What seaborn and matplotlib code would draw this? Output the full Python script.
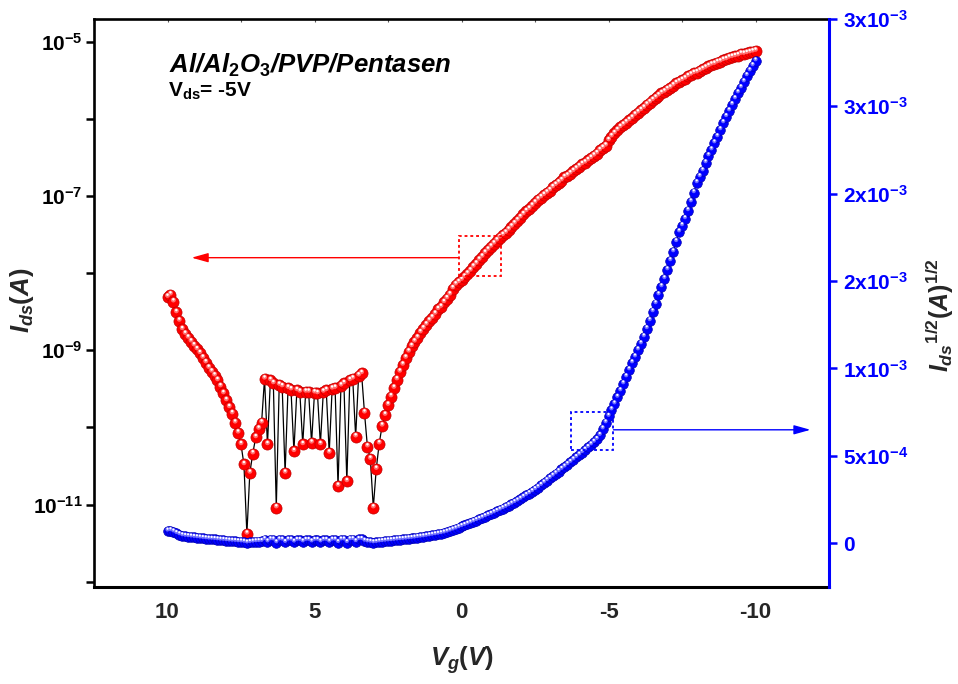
import numpy as np
import pandas as pd
import matplotlib
matplotlib.use("Agg")
import matplotlib.pyplot as plt
import matplotlib.ticker as mticker
from matplotlib.patches import Rectangle
from matplotlib.transforms import ScaledTranslation
import seaborn as sns

# ---------------------------------------------------------------------------
# Transfer curve of an Al/Al2O3/PVP/pentacene OTFT, Vds = -5 V.
# Gate sweep from +10 V to -10 V in 0.1 V steps.
# ---------------------------------------------------------------------------
VG_START, VG_STOP = 10.0, -10.0

# log10 of the drain current Ids (A)
log10_ids = [
    -8.31, -8.28, -8.37, -8.51, -8.62, -8.73, -8.79, -8.84, -8.89, -8.94,
    -8.99, -9.04, -9.10, -9.16, -9.23, -9.28, -9.33, -9.39, -9.47, -9.56,
    -9.65, -9.74, -9.82, -9.94, -10.07, -10.22, -10.48, -11.38, -10.59, -10.34,
    -10.13, -10.02, -9.94, -9.37, -10.22, -9.39, -9.43, -11.04, -9.45, -9.47,
    -10.59, -9.49, -9.51, -10.31, -9.52, -9.54, -10.22, -9.54, -9.54, -10.20,
    -9.55, -9.56, -10.22, -9.54, -9.52, -10.33, -9.50, -9.49, -10.76, -9.46,
    -9.43, -10.70, -9.39, -9.37, -10.12, -9.33, -9.30, -9.81, -10.25, -10.41,
    -11.04, -10.54, -10.21, -9.98, -9.84, -9.71, -9.60, -9.49, -9.38, -9.28,
    -9.19, -9.10, -9.02, -8.95, -8.89, -8.84, -8.77, -8.72, -8.67, -8.62,
    -8.58, -8.53, -8.47, -8.44, -8.38, -8.33, -8.28, -8.20, -8.15, -8.12,
    -8.09, -8.05, -8.01, -7.97, -7.92, -7.88, -7.83, -7.79, -7.74, -7.70,
    -7.66, -7.62, -7.58, -7.54, -7.51, -7.48, -7.44, -7.40, -7.36, -7.32,
    -7.28, -7.24, -7.20, -7.17, -7.13, -7.09, -7.05, -7.02, -6.99, -6.96,
    -6.93, -6.89, -6.86, -6.83, -6.80, -6.76, -6.74, -6.71, -6.68, -6.65,
    -6.62, -6.59, -6.57, -6.54, -6.51, -6.48, -6.45, -6.41, -6.38, -6.35,
    -6.28, -6.23, -6.19, -6.15, -6.11, -6.08, -6.05, -6.02, -5.99, -5.95,
    -5.92, -5.89, -5.86, -5.82, -5.79, -5.76, -5.73, -5.70, -5.67, -5.65,
    -5.62, -5.60, -5.57, -5.54, -5.52, -5.50, -5.48, -5.45, -5.43, -5.41,
    -5.40, -5.38, -5.36, -5.34, -5.32, -5.30, -5.29, -5.27, -5.26, -5.24,
    -5.23, -5.21, -5.20, -5.19, -5.18, -5.16, -5.16, -5.15, -5.14, -5.13,
    -5.12,
]

# sqrt(Ids) in units of 1e-4 A^1/2
sqrt_ids_e4 = [
    0.70, 0.72, 0.65, 0.56, 0.49, 0.43, 0.40, 0.38, 0.36, 0.34,
    0.32, 0.30, 0.28, 0.26, 0.24, 0.23, 0.22, 0.20, 0.18, 0.17,
    0.15, 0.13, 0.12, 0.11, 0.09, 0.08, 0.06, 0.02, 0.05, 0.07,
    0.09, 0.10, 0.11, 0.21, 0.08, 0.20, 0.19, 0.03, 0.19, 0.18,
    0.05, 0.18, 0.18, 0.07, 0.17, 0.17, 0.08, 0.17, 0.17, 0.08,
    0.17, 0.17, 0.08, 0.17, 0.17, 0.07, 0.18, 0.18, 0.04, 0.19,
    0.19, 0.04, 0.20, 0.21, 0.09, 0.22, 0.22, 0.12, 0.08, 0.06,
    0.03, 0.05, 0.08, 0.10, 0.12, 0.14, 0.15, 0.17, 0.19, 0.21,
    0.22, 0.24, 0.26, 0.28, 0.30, 0.33, 0.35, 0.37, 0.40, 0.43,
    0.46, 0.49, 0.52, 0.55, 0.59, 0.64, 0.70, 0.76, 0.82, 0.89,
    0.96, 1.02, 1.09, 1.16, 1.23, 1.30, 1.37, 1.44, 1.52, 1.59,
    1.66, 1.74, 1.82, 1.90, 1.98, 2.06, 2.15, 2.24, 2.33, 2.42,
    2.52, 2.63, 2.74, 2.84, 2.95, 3.07, 3.18, 3.31, 3.45, 3.58,
    3.71, 3.84, 3.97, 4.10, 4.23, 4.36, 4.50, 4.63, 4.77, 4.91,
    5.05, 5.19, 5.33, 5.48, 5.63, 5.78, 5.94, 6.17, 6.54, 6.89,
    7.26, 7.63, 7.97, 8.35, 8.72, 9.12, 9.52, 9.92, 10.32, 10.66,
    11.06, 11.41, 11.81, 12.27, 12.73, 13.24, 13.70, 14.21, 14.67, 15.13,
    15.64, 16.16, 16.67, 17.25, 17.81, 18.16, 18.56, 19.02, 19.53, 20.05,
    20.62, 20.96, 21.30, 21.76, 22.16, 22.50, 22.90, 23.25, 23.65, 24.05,
    24.40, 24.73, 25.08, 25.42, 25.76, 26.05, 26.39, 26.74, 27.02, 27.31,
    27.59,
]

# Axis ticks and their labels
x_ticks = [10, 5, 0, -5, -10]
x_tick_labels = ["10", "5", "0", "-5", "-10"]
left_ticks = [1e-12, 1e-11, 1e-10, 1e-9, 1e-8, 1e-7, 1e-6, 1e-5]
left_tick_labels = ["", r"$10^{-11}$", "", r"$10^{-9}$", "", r"$10^{-7}$", "", r"$10^{-5}$"]
right_ticks = [0.0, 5e-4, 1e-3, 1.5e-3, 2e-3, 2.5e-3, 3e-3]
right_tick_labels = ["0", r"5x10$^{-4}$", r"1x10$^{-3}$", r"2x10$^{-3}$",
                     r"2x10$^{-3}$", r"3x10$^{-3}$", r"3x10$^{-3}$"]

assert len(log10_ids) == len(sqrt_ids_e4)
vg = np.linspace(VG_START, VG_STOP, len(log10_ids))
df = pd.DataFrame({
    "Vg": vg,
    "Ids": 10.0 ** np.asarray(log10_ids),
    "sqrtIds": np.asarray(sqrt_ids_e4) * 1e-4,
})

# ---------------------------------------------------------------------------
sns.set_style("white")
plt.rcParams["font.family"] = ["Liberation Sans", "DejaVu Sans"]
plt.rcParams["font.weight"] = "bold"
plt.rcParams["mathtext.fontset"] = "custom"
plt.rcParams["mathtext.rm"] = "Liberation Sans:bold"
plt.rcParams["mathtext.bf"] = "Liberation Sans:bold"
plt.rcParams["mathtext.it"] = "Liberation Sans:italic:bold"

W, H = 958, 684
fig = plt.figure(figsize=(W / 100, H / 100), dpi=100)
fig.patch.set_facecolor("white")


def fx(px):
    return px / W


def fy(py):
    return 1 - py / H


ax = fig.add_axes([fx(94), fy(587), fx(829) - fx(94), fy(18.7) - fy(587)])
ax.set_yscale("log")
ax2 = ax.twinx()


def spheres(axis, y, face, edge, glow, shine, size):
    """Shaded ball markers: body, a lighter glow and a small specular spot."""
    sns.scatterplot(data=df, x="Vg", y=y, ax=axis, s=size, color=face,
                    edgecolor=edge, linewidth=0.5, zorder=3, legend=False)
    off1 = ScaledTranslation(0, 1.2 / 72, fig.dpi_scale_trans)
    sns.scatterplot(data=df, x="Vg", y=y, ax=axis, s=size * 0.2, color=glow,
                    edgecolor="none", linewidth=0, zorder=4, legend=False,
                    transform=axis.transData + off1)
    off2 = ScaledTranslation(0, 1.7 / 72, fig.dpi_scale_trans)
    sns.scatterplot(data=df, x="Vg", y=y, ax=axis, s=size * 0.05, color=shine,
                    edgecolor="none", linewidth=0, zorder=5, legend=False,
                    transform=axis.transData + off2)


# Ids on the logarithmic left axis
sns.lineplot(data=df, x="Vg", y="Ids", ax=ax, sort=False, estimator=None,
             color="black", linewidth=0.9, zorder=2)
spheres(ax, "Ids", "#ff0000", "#c00000", "#ff6e6e", "#ffffff", 64)

# sqrt(Ids) on the linear right axis
sns.lineplot(data=df, x="Vg", y="sqrtIds", ax=ax2, sort=False, estimator=None,
             color="black", linewidth=0.6, zorder=2)
spheres(ax2, "sqrtIds", "#0000ff", "#0000b0", "#6e6eff", "#ffffff", 48)

# Limits
ax.set_xlim(12.5, -12.5)
ax.set_ylim(10 ** -12.069, 10 ** -4.702)
ax2.set_ylim(-2.5e-4, 3.0e-3)

# Left axis ticks
ax.yaxis.set_major_locator(mticker.FixedLocator(left_ticks))
ax.yaxis.set_minor_locator(mticker.NullLocator())
ax.set_yticklabels(left_tick_labels, fontsize=15)
ax.tick_params(axis="y", which="major", direction="out", length=6, width=1.8,
               pad=2, colors="black")

# Bottom axis ticks
ax.set_xticks(x_ticks)
ax.set_xticklabels(x_tick_labels, fontsize=16, fontweight="bold")
ax.xaxis.set_minor_locator(mticker.MultipleLocator(2.5))
ax.tick_params(axis="x", which="major", direction="out", length=7, width=2.0,
               pad=4)
ax.tick_params(axis="x", which="minor", direction="in", length=2.5, width=0.8,
               colors="#555555")
ax.set_xlabel("")
ax.set_ylabel("")

# Top axis: small inward ticks
top = ax.secondary_xaxis("top")
top.xaxis.set_major_locator(mticker.MultipleLocator(2.5))
top.tick_params(axis="x", direction="in", length=2.5, width=0.8,
                labeltop=False, colors="#555555")
top.spines["top"].set_visible(False)

# Right axis ticks
ax2.set_yticks(right_ticks)
ax2.set_yticklabels(right_tick_labels, fontsize=15, color="blue")
ax2.tick_params(axis="y", direction="out", length=6, width=1.8, pad=4,
                colors="blue")
ax2.set_ylabel("")

# Spines
for name, sp in ax.spines.items():
    sp.set_color("black")
    sp.set_linewidth(1.9)
ax.spines["bottom"].set_linewidth(2.2)
ax.spines["right"].set_visible(False)
for name in ("left", "top", "bottom"):
    ax2.spines[name].set_visible(False)
ax2.spines["right"].set_color("blue")
ax2.spines["right"].set_linewidth(2.2)

# Highlight boxes with arrows pointing to the matching axis
ax.add_patch(Rectangle((0.10, 10 ** -8.033), -1.43, 10 ** -7.515 - 10 ** -8.033,
                       fill=False, edgecolor="red", linewidth=1.3,
                       linestyle=(0, (1.6, 1.6)), zorder=6))
ax.annotate("", xy=(9.18, 10 ** -7.80), xytext=(0.10, 10 ** -7.80),
            arrowprops=dict(arrowstyle="-|>,head_length=1.0,head_width=0.28",
                            color="red", lw=1.0, mutation_scale=10,
                            shrinkA=0, shrinkB=0), zorder=6)
ax2.add_patch(Rectangle((-3.71, 5.34e-4), -1.46, 7.52e-4 - 5.34e-4,
                        fill=False, edgecolor="blue", linewidth=1.3,
                        linestyle=(0, (1.6, 1.6)), zorder=6))
ax2.annotate("", xy=(-11.87, 6.49e-4), xytext=(-5.17, 6.49e-4),
             arrowprops=dict(arrowstyle="-|>,head_length=1.0,head_width=0.28",
                             color="blue", lw=1.0, mutation_scale=10,
                             shrinkA=0, shrinkB=0), zorder=6)

# Texts
fig.text(fx(169), fy(72.5), r"Al/Al$_\mathit{2}$O$_\mathit{3}$/PVP/Pentasen",
         fontsize=18.5, fontstyle="italic", fontweight="bold", color="black",
         ha="left", va="baseline")
fig.text(fx(168), fy(97), r"$\mathrm{V_{ds}}$= -5V", fontsize=15,
         fontweight="bold", color="black", ha="left", va="baseline")
fig.text(fx(22), fy(300), r"$\mathit{I_{ds}(A)}$", fontsize=18.5,
         rotation=90, ha="center", va="center")
fig.text(fx(940), fy(315), r"$\mathit{I_{ds}{}^{1/2}(A)^{1/2}}$", fontsize=18,
         rotation=90, ha="center", va="center")
fig.text(fx(462), fy(660), r"$\mathit{V_g(V)}$", fontsize=18.5,
         ha="center", va="center")

fig.savefig("out.png", dpi=100)
